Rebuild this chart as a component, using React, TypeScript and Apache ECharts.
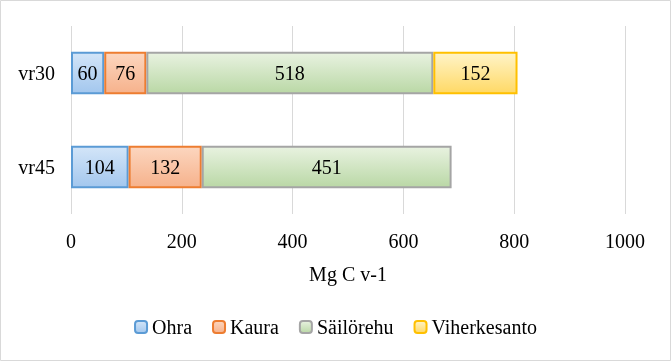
import React, { useEffect, useRef } from "react";
import * as echarts from "echarts";

const categories = ["vr30", "vr45"];
const seriesNames = ["Ohra", "Kaura", "Säilörehu", "Viherkesanto"];
const ohra = [60, 104];
const kaura = [76, 132];
const sailorehu = [518, 451];
const viherkesanto: (number | null)[] = [152, null];
const xTicks = { min: 0, max: 1000, interval: 200 };

const FONT = "Liberation Serif";

const styles = [
  { top: "#d3e5f8", bottom: "#a3c7ee", border: "#5b9bd5" },
  { top: "#fcd6bf", bottom: "#f6b28c", border: "#ed7d31" },
  { top: "#e8f2e0", bottom: "#bad8a6", border: "#a5a5a5" },
  { top: "#fff4c8", bottom: "#ffd966", border: "#ffc000" },
];

export default function App() {
  const ref = useRef<HTMLDivElement>(null);
  useEffect(() => {
    if (!ref.current) return;
    const chart = echarts.init(ref.current, undefined, { renderer: "svg" });
    const data = [ohra, kaura, sailorehu, viherkesanto];
    chart.setOption({
      animation: false,
      textStyle: { fontFamily: FONT },
      graphic: [
        {
          type: "rect",
          shape: { x: 0.5, y: 0.5, width: 670, height: 360 },
          style: { fill: "none", stroke: "#d9d9d9", lineWidth: 1 },
          silent: true,
          z: 100,
        },
      ],
      grid: { left: 71, right: 46, top: 26, bottom: 147 },
      legend: {
        data: seriesNames,
        top: 312,
        left: "center",
        itemWidth: 12,
        itemHeight: 12,
        itemGap: 20,
        textStyle: { fontFamily: FONT, fontSize: 20, color: "#000" },
      },
      xAxis: {
        type: "value",
        min: xTicks.min,
        max: xTicks.max,
        interval: xTicks.interval,
        name: "Mg C v-1",
        nameLocation: "middle",
        nameGap: 50,
        nameTextStyle: { fontFamily: FONT, fontSize: 20, color: "#000" },
        axisLine: { show: false },
        axisTick: { show: false },
        axisLabel: {
          margin: 17,
          fontFamily: FONT,
          fontSize: 20,
          color: "#000",
          formatter: (v: number) => String(v),
        },
        splitLine: { lineStyle: { color: "#d9d9d9", width: 1 } },
      },
      yAxis: {
        type: "category",
        data: categories,
        inverse: true,
        axisLine: { show: false },
        axisTick: { show: false },
        axisLabel: { margin: 16, fontFamily: FONT, fontSize: 20, color: "#000" },
      },
      series: seriesNames.map((name, i) => ({
        name,
        type: "bar",
        stack: "total",
        barWidth: "45%",
        data: data[i],
        itemStyle: {
          color: {
            type: "linear",
            x: 0,
            y: 0,
            x2: 0,
            y2: 1,
            colorStops: [
              { offset: 0, color: styles[i].top },
              { offset: 1, color: styles[i].bottom },
            ],
          },
          borderColor: styles[i].border,
          borderWidth: 2,
        },
        label: {
          show: true,
          position: "inside",
          color: "#000",
          fontFamily: FONT,
          fontSize: 20,
        },
      })),
    });
    return () => chart.dispose();
  }, []);
  return (
    <div
      ref={ref}
      style={{ position: "fixed", left: 0, top: 0, width: 671, height: 361 }}
    />
  );
}
